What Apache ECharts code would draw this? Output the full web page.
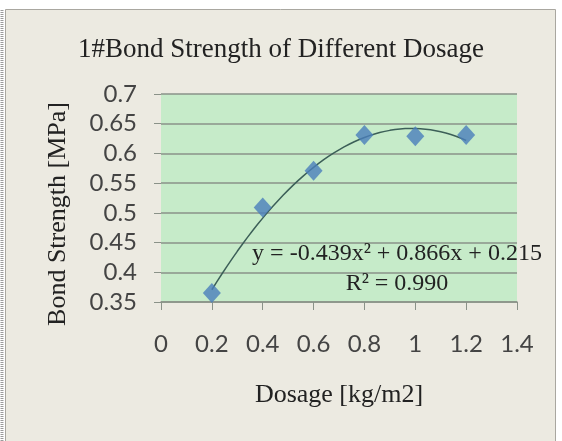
<!DOCTYPE html>
<html>
<head>
<meta charset="utf-8">
<script src="https://cdn.jsdelivr.net/npm/echarts@6/dist/echarts.min.js"></script>
<style>
  html, body { margin: 0; padding: 0; background: #fff; }
  #main { width: 562px; height: 441px; }
</style>
</head>
<body>
<div id="main"></div>
<script>
// measured points
const dosage = [0.2, 0.4, 0.6, 0.8, 1.0, 1.2]
const strength = [0.365, 0.509, 0.571, 0.631, 0.629, 0.631]
// trendline y = a x^2 + b x + c, as printed on the chart
const trendCoef = [-0.439, 0.866, 0.215]
const xTicks = [0, 0.2, 0.4, 0.6, 0.8, 1, 1.2, 1.4]
const yTicks = [0.35, 0.4, 0.45, 0.5, 0.55, 0.6, 0.65, 0.7]

const serif = '"Liberation Serif", "DejaVu Serif", serif'
const sans = 'Lato, "Liberation Sans", sans-serif'

// trendline drawn over the range of the data
const trend = []
for (let i = 0; i <= 50; i++) {
  const x = dosage[0] + (dosage[dosage.length - 1] - dosage[0]) * i / 50
  trend.push([x, trendCoef[0] * x * x + trendCoef[1] * x + trendCoef[2]])
}

const chart = echarts.init(document.getElementById('main'), null, { renderer: 'canvas' })
const option = {
  backgroundColor: '#ffffff',
  animation: false,
  graphic: [
    { type: 'rect', z: -10, shape: { x: 5.5, y: 9.5, width: 550, height: 440 },
      style: { fill: '#ECEAE1', stroke: '#A9A7A0', lineWidth: 1 } },
    { type: 'line', z: -9, shape: { x1: 2, y1: 10, x2: 2, y2: 441 },
      style: { stroke: '#9a9a9a', lineWidth: 3, lineDash: [1, 1] } },
    { type: 'text', x: 58, y: 214, rotation: Math.PI / 2,
      style: { text: 'Bond Strength [MPa]', font: '26px ' + serif, fill: '#222',
               align: 'center', verticalAlign: 'middle' } },
    { type: 'text', x: 397, y: 254, z: 100,
      style: { text: 'y = -0.439x² + 0.866x + 0.215', font: '24px ' + serif, fill: '#222',
               align: 'center', verticalAlign: 'middle' } },
    { type: 'text', x: 397, y: 284, z: 100,
      style: { text: 'R² = 0.990', font: '24px ' + serif, fill: '#222',
               align: 'center', verticalAlign: 'middle' } }
  ],
  title: {
    text: '1#Bond Strength of Different Dosage',
    left: 'center',
    top: 31,
    textStyle: { fontFamily: serif, fontSize: 27, fontWeight: 'normal', color: '#222' }
  },
  grid: {
    left: 161, right: 45, top: 94, bottom: 139,
    show: true, backgroundColor: '#C6EBC9', borderWidth: 0
  },
  xAxis: {
    type: 'value',
    min: xTicks[0], max: xTicks[xTicks.length - 1], interval: 0.2,
    name: 'Dosage [kg/m2]',
    nameLocation: 'middle',
    nameGap: 80,
    nameTextStyle: { fontFamily: serif, fontSize: 26, color: '#222' },
    axisLine: { show: true, onZero: false, lineStyle: { color: '#8A9288', width: 1.5 } },
    axisTick: { show: true, length: 8, lineStyle: { color: '#8A9288' } },
    axisLabel: { margin: 30, fontFamily: sans, fontSize: 24, color: '#444' },
    splitLine: { show: false }
  },
  yAxis: {
    type: 'value',
    min: yTicks[0], max: yTicks[yTicks.length - 1], interval: 0.05,
    axisLine: { show: false },
    axisTick: { show: true, length: 7, lineStyle: { color: '#8A9288' } },
    axisLabel: { margin: 24, fontFamily: sans, fontSize: 24, color: '#444' },
    splitLine: { show: true, lineStyle: { color: '#8A9288', width: 1.5 } }
  },
  series: [
    {
      type: 'line',
      data: trend,
      showSymbol: false,
      smooth: false,
      lineStyle: { color: '#3C5F58', width: 1.5 },
      z: 2
    },
    {
      type: 'scatter',
      data: dosage.map((x, i) => [x, strength[i]]),
      symbol: 'diamond',
      symbolSize: [18, 20],
      itemStyle: { color: '#4A7EBB' },
      z: 3
    }
  ]
}
chart.setOption(option)
</script>
</body>
</html>
